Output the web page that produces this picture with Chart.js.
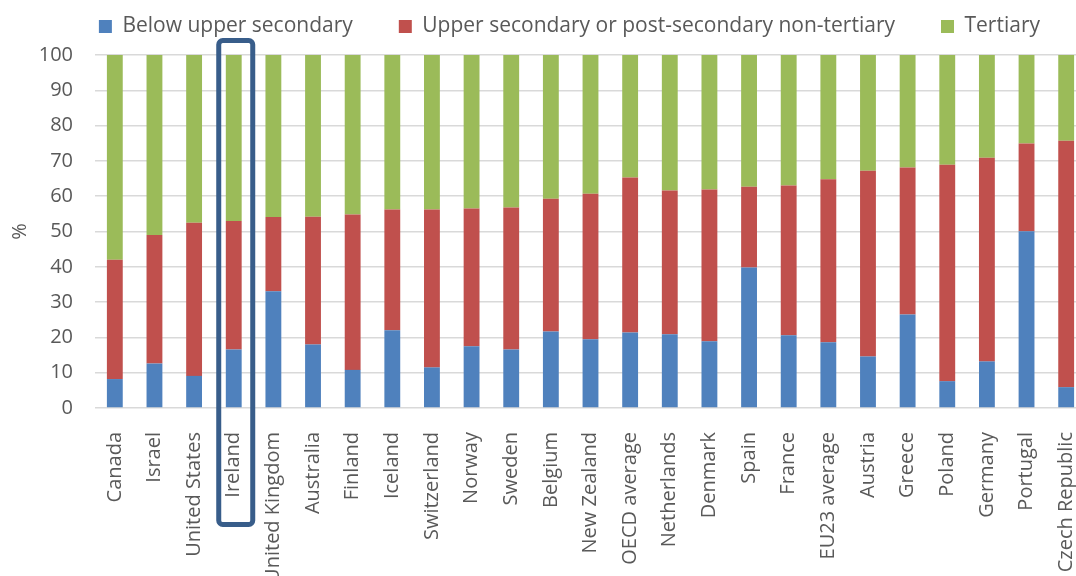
<!DOCTYPE html>
<html>
<head>
<meta charset="utf-8">
<script src="https://cdn.jsdelivr.net/npm/chart.js@4/dist/chart.umd.min.js"></script>
<style>
  html, body { margin: 0; padding: 0; background: #fff; overflow: hidden; }
  .chart-wrap { position: relative; width: 1143px; height: 576px; }
</style>
</head>
<body>
<div class="chart-wrap">
  <canvas id="attainmentChart" width="1143" height="576"></canvas>
</div>
<script>
const countries = [
  "Canada", "Israel", "United States", "Ireland", "United Kingdom", "Australia",
  "Finland", "Iceland", "Switzerland", "Norway", "Sweden", "Belgium",
  "New Zealand", "OECD average", "Netherlands", "Denmark", "Spain", "France",
  "EU23 average", "Austria", "Greece", "Poland", "Germany", "Portugal",
  "Czech Republic"
];

// shares of the adult population by attainment level, %
const belowUpperSecondary = [
  8.2, 12.6, 9.1, 16.6, 33.1, 18.0, 10.8, 22.0, 11.5, 17.5, 16.6, 21.7,
  19.5, 21.4, 20.9, 18.9, 39.8, 20.6, 18.6, 14.6, 26.5, 7.6, 13.2, 50.1, 5.9
];
const upperSecondary = [
  33.8, 36.4, 43.4, 36.4, 21.0, 36.2, 44.0, 34.2, 44.7, 39.0, 40.2, 37.6,
  41.2, 43.9, 40.7, 43.0, 22.9, 42.4, 46.2, 52.6, 41.6, 61.3, 57.7, 24.8, 69.8
];
const tertiary = [
  58.0, 51.0, 47.5, 47.0, 45.9, 45.8, 45.2, 43.8, 43.8, 43.5, 43.2, 40.7,
  39.3, 34.7, 38.4, 38.1, 37.3, 37.0, 35.2, 32.8, 31.9, 31.1, 29.1, 25.1, 24.3
];

const highlighted = "Ireland";

const textColor = "#595959";
const fontFamily = "'Open Sans', 'Liberation Sans', sans-serif";

// outline around the highlighted country, from the top of the chart down past its label
const highlightBox = {
  id: "highlightBox",
  afterDraw(chart) {
    const idx = countries.indexOf(highlighted);
    if (idx < 0) return;
    const x = chart.scales.x.getPixelForValue(idx);
    const top = chart.chartArea.top - 14.5;
    const bottom = chart.chartArea.bottom + 116.5;
    const ctx = chart.ctx;
    ctx.save();
    ctx.strokeStyle = "#385d8a";
    ctx.lineWidth = 5;
    ctx.beginPath();
    ctx.roundRect(x - 15, top, 34, bottom - top, 4);
    ctx.stroke();
    ctx.restore();
  }
};

// lift the legend a bit further away from the plot
const legendLift = {
  id: "legendLift",
  afterLayout(chart) {
    if (!chart.legend) return;
    chart.legend.top -= 8;
    chart.legend.bottom -= 8;
  }
};

new Chart(document.getElementById("attainmentChart"), {
  type: "bar",
  data: {
    labels: countries,
    datasets: [
      {
        label: "Below upper secondary",
        data: belowUpperSecondary,
        backgroundColor: "#4f81bd"
      },
      {
        label: "Upper secondary or post-secondary non-tertiary",
        data: upperSecondary,
        backgroundColor: "#c0504d"
      },
      {
        label: "Tertiary",
        data: tertiary,
        backgroundColor: "#9bbb59"
      }
    ]
  },
  options: {
    responsive: false,
    animation: false,
    devicePixelRatio: 1,
    layout: {
      padding: { top: -38, right: 57, left: 0, bottom: 0 }
    },
    datasets: {
      bar: {
        categoryPercentage: 1,
        barPercentage: 0.4
      }
    },
    plugins: {
      legend: {
        position: "top",
        align: "end",
        labels: {
          color: textColor,
          boxWidth: 13,
          boxHeight: 13,
          padding: 46,
          font: { family: fontFamily, size: 21 }
        }
      },
      tooltip: { enabled: false }
    },
    scales: {
      x: {
        stacked: true,
        grid: { display: false },
        border: { display: false },
        ticks: {
          color: textColor,
          font: { family: fontFamily, size: 20 },
          minRotation: 90,
          maxRotation: 90,
          autoSkip: false,
          padding: 16
        },
        afterFit(scale) {
          scale.height = 168;
        }
      },
      y: {
        stacked: true,
        min: 0,
        max: 100,
        grid: {
          color: "#d9d9d9",
          lineWidth: 1.5,
          drawTicks: false
        },
        border: { display: false },
        ticks: {
          stepSize: 10,
          color: textColor,
          font: { family: fontFamily, size: 20 },
          padding: 22
        },
        title: {
          display: true,
          text: "%",
          color: textColor,
          font: { family: fontFamily, size: 20 },
          padding: { top: 8, bottom: 0 }
        },
        afterFit(scale) {
          scale.width = 95;
          scale.paddingTop = 55;
        }
      }
    }
  },
  plugins: [highlightBox, legendLift]
});
</script>
</body>
</html>
